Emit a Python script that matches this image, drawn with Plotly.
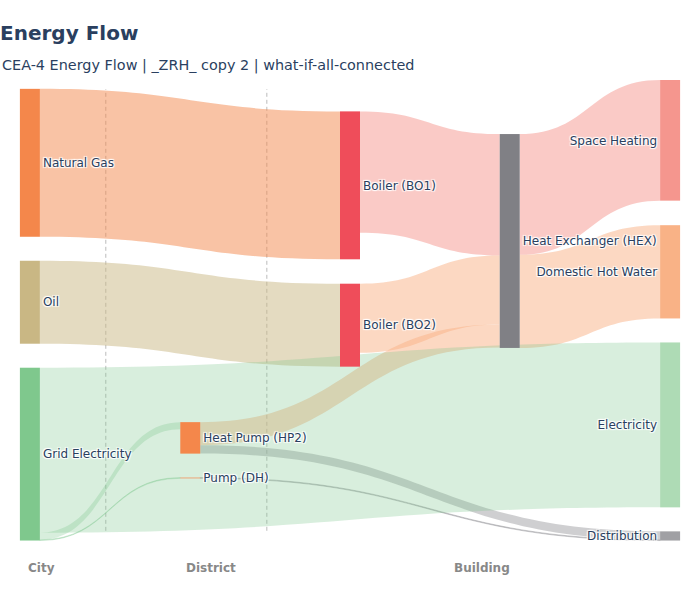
import plotly.graph_objects as go

# nodes
node_labels = ["Natural Gas", "Oil", "Grid Electricity", "Heat Pump (HP2)", "Pump (DH)",
               "Boiler (BO1)", "Boiler (BO2)", "Heat Exchanger (HEX)",
               "Space Heating", "Domestic Hot Water", "Electricity", "Distribution"]
node_colors = ["#F4874B", "#C9B784", "#7FC88D", "#F4874B", "#F4874B",
               "#EF4D5A", "#EF4D5A", "#808085",
               "#F5968E", "#F9B286", "#AEDBB5", "#A0A0A4"]
# layout hints (column / vertical centre, fraction of plot area)
node_x = [0.015, 0.015, 0.015, 0.258, 0.258, 0.5, 0.5, 0.742, 0.985, 0.985, 0.985, 0.985]
node_y = [0.180, 0.483, 0.813, 0.778, 0.865, 0.229, 0.533, 0.350, 0.131, 0.417, 0.749, 0.990]

# links (MWh/yr) - grid links last so they sit on top
link_source = [0, 1, 5, 6, 3, 7, 7, 3, 4, 2, 2, 2]
link_target = [5, 6, 7, 7, 7, 8, 9, 11, 11, 3, 4, 10]
link_value = [1480, 830, 1215, 690, 230, 1207, 933, 85, 7, 72, 7, 1650]
link_colors = ["rgba(244,135,75,0.5)", "rgba(201,183,132,0.5)",
               "rgba(245,150,142,0.5)", "rgba(249,178,134,0.5)", "rgba(249,178,134,0.5)",
               "rgba(245,150,142,0.5)", "rgba(249,178,134,0.5)",
               "rgba(160,160,164,0.5)", "rgba(160,160,164,0.5)",
               "rgba(127,200,141,0.3)", "rgba(127,200,141,0.3)", "rgba(127,200,141,0.3)"]

scale_labels = ["City", "District", "Building"]
scale_label_x = [0.033, 0.29, 0.70]
scale_divider_x = [0.13, 0.374]

fig = go.Figure(go.Sankey(
    arrangement="snap",
    node=dict(label=node_labels, color=node_colors, x=node_x, y=node_y,
              pad=24, thickness=20, line=dict(width=0)),
    link=dict(source=link_source, target=link_target, value=link_value, color=link_colors),
    textfont=dict(family="DejaVu Sans", size=12, color="#2a3f5f"),
))

for xd in scale_divider_x:
    fig.add_shape(type="line", xref="paper", yref="paper", x0=xd, x1=xd, y0=0.02, y1=0.98,
                  line=dict(color="#BBBBBB", width=1, dash="4px,3px"), layer="below")

for lab, xl in zip(scale_labels, scale_label_x):
    fig.add_annotation(text="<b>" + lab + "</b>", x=xl, y=-0.06, xref="paper", yref="paper",
                       showarrow=False, xanchor="center", yanchor="middle",
                       font=dict(family="DejaVu Sans", size=12, color="#888888"))

# subtitle
fig.add_annotation(text="CEA-4 Energy Flow | _ZRH_ copy 2 | what-if-all-connected",
                   x=-0.0303, y=1.0326, xref="paper", yref="paper", showarrow=False,
                   xanchor="left", yanchor="middle",
                   font=dict(family="DejaVu Sans", size=14.4, color="#2a3f5f"))

fig.update_layout(
    width=700, height=600,
    font=dict(family="DejaVu Sans", size=12, color="#2a3f5f"),
    title=dict(text="<b>Energy Flow</b>", x=0, xref="container", xanchor="left",
               y=0.9567, yanchor="top", font=dict(size=20, color="#2a3f5f")),
    margin=dict(l=20, r=20, t=80, b=60),
    paper_bgcolor="white", plot_bgcolor="white",
)

fig.write_html("out.html", config={"displayModeBar": False},
               post_script="document.body.style.margin = '0';")
